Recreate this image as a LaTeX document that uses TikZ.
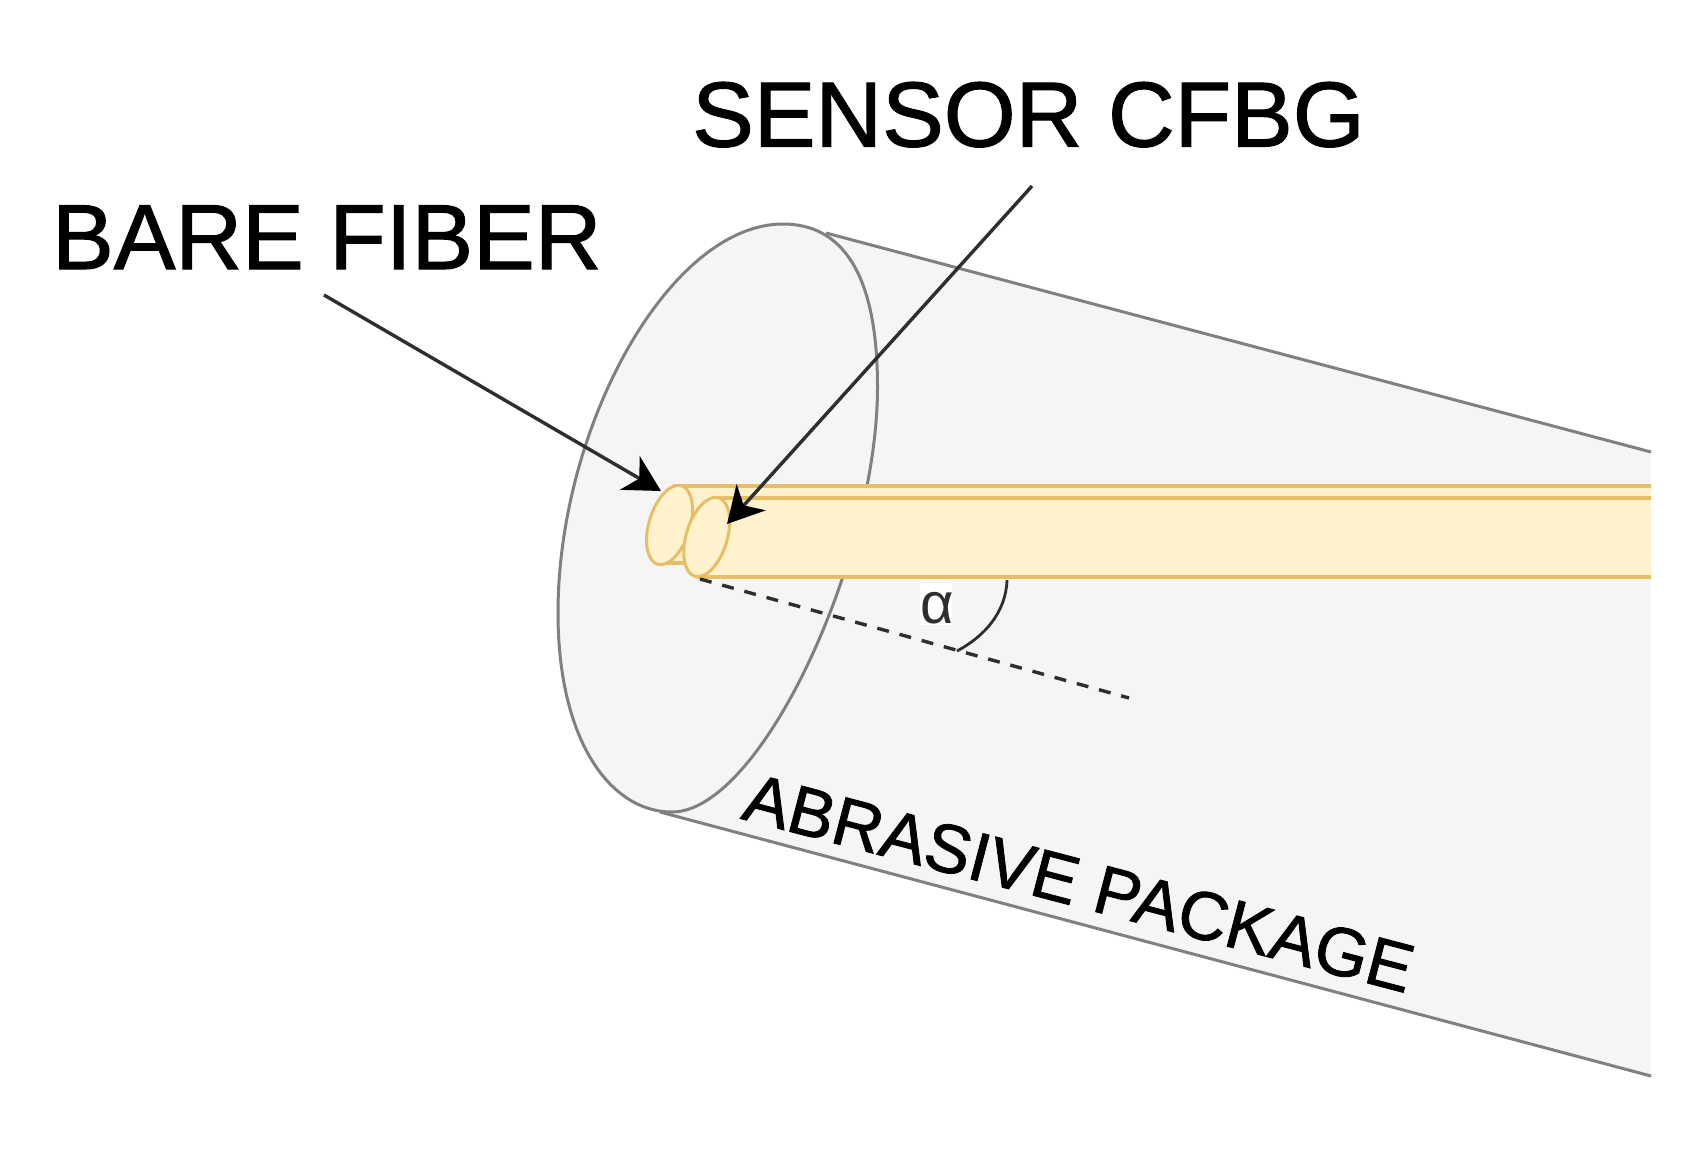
\documentclass[tikz,border=0pt]{standalone}
\usepackage{fontspec}
\setmainfont{Liberation Sans}
\newfontfamily\heavysans[FakeBold=1.2]{Liberation Sans}
\usetikzlibrary{arrows.meta}
\definecolor{pkgfill}{HTML}{F5F5F5}
\definecolor{pkgline}{HTML}{808080}
\definecolor{fibfill}{HTML}{FFF2CC}
\definecolor{fibline}{HTML}{E6BE66}
\definecolor{inkdark}{HTML}{2E2E2E}
\tikzset{
  pkg/.style={fill=pkgfill,draw=none},
  pkgedge/.style={draw=pkgline,line width=3pt},
  fib/.style={fill=fibfill,draw=fibline,line width=3pt,line join=round},
  fibedge/.style={draw=fibline,line width=3.4pt},
  pointer/.style={draw=inkdark,line width=3.4pt,-{Stealth[length=36pt,width=39pt,inset=11pt,color=black]}},
  lab/.style={font=\heavysans\fontsize{92.4}{92.4}\selectfont,text=black,inner sep=0pt},
}
\begin{document}
\begin{tikzpicture}[x=1pt,y=-1pt]
\useasboundingbox (0,0) rectangle (1707,1157);
% package body
\coordinate (upA) at (826,233);
\coordinate (upB) at (1651,452);
\coordinate (loA) at (660,812);
\coordinate (loB) at (1651,1076);
\fill[pkg] (upA) -- (upB) -- (loB) -- (loA) -- cycle;
\draw[pkgedge] (upA) -- (upB);
\draw[pkgedge] (loA) -- (loB);
\draw[pkgedge,fill=pkgfill] (783,224)
  .. controls (840,224) and (877.5,270) .. (877.5,387)
  .. controls (877.5,560) and (760,812) .. (672,812)
  .. controls (610,812) and (558,740) .. (558,613)
  .. controls (558,425) and (670,224) .. (783,224) -- cycle;
% rear fibre
\fill[fibfill] (673,486) rectangle (1651,562);
\draw[fibedge] (673,486) -- (1651,486);
\draw[fibedge] (660,563) -- (690,563);
\draw[fib,rotate around={-17:(669.5,525)}] (669.5,525) ellipse [x radius=20.5,y radius=41];
% front fibre
\fill[fibfill] (712,498) rectangle (1651,577);
\draw[fibedge,line width=4pt] (712,498) -- (1651,498);
\draw[fibedge] (697,577) -- (1651,577);
\draw[fib,rotate around={-17:(706.7,537)}] (706.7,537) ellipse [x radius=20.5,y radius=41];
% axis and angle
\coordinate (axisA) at (700,579);
\coordinate (axisB) at (1129,698);
\draw[draw=inkdark,line width=3.4pt,dash pattern=on 12pt off 11pt] (axisA) -- (axisB);
\coordinate (arcA) at (1007,580);
\coordinate (arcB) at (957,651);
\draw[draw=inkdark,line width=2.8pt] (arcA) .. controls (1006,612) and (985,636) .. (arcB);
\node[fill=white,inner sep=0pt,minimum width=32pt,minimum height=42pt] (alphabox) at (936,604) {};
\node[font=\fontsize{58}{58}\selectfont,text=inkdark,inner sep=0pt] (alpha) at (937,608) {α};
% labels
\node[lab,anchor=base west] (sensor) at (692,146.5) {SENSOR CFBG};
\node[lab,anchor=base west] (bare) at (52,269) {BARE FIBER};
\node[lab,font=\heavysans\fontsize{68.6}{68.6}\selectfont,rotate=-14.7,anchor=center] (abrasive) at (1079,883) {ABRASIVE PACKAGE};
% pointers
\coordinate (bareS) at (324,295);
\coordinate (bareT) at (661,491);
\coordinate (sensS) at (1032,186);
\coordinate (sensT) at (727,524);
\draw[pointer] (bareS) -- (bareT);
\draw[pointer] (sensS) -- (sensT);
\end{tikzpicture}
\end{document}
